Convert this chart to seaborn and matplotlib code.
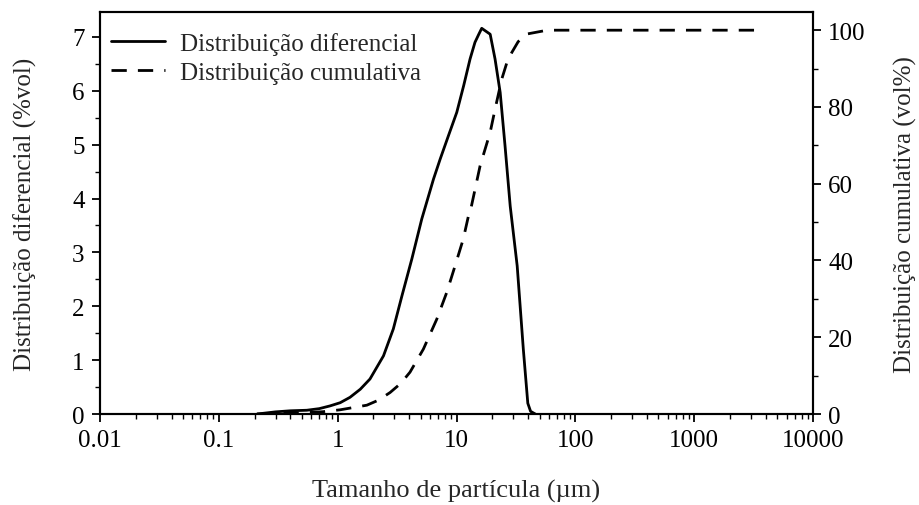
import matplotlib
matplotlib.use("Agg")
import matplotlib.pyplot as plt
import matplotlib.ticker as mticker
from matplotlib.lines import Line2D
import seaborn as sns
import pandas as pd
import numpy as np

# Differential distribution (%vol) vs particle size (µm)
diff_size = [0.21, 0.3, 0.4, 0.55, 0.7, 0.86, 1.05, 1.27, 1.55, 1.87, 2.43, 2.94, 3.47, 4.21,
             5.1, 6.4, 7.28, 8.5, 10.05, 11.5, 13.0, 14.3, 15.4, 16.3, 19.2, 21.1, 23.3, 25.6,
             28.3, 32.4, 36.5, 39.8, 42.0, 46.0]
diff_vals = [0.0, 0.04, 0.06, 0.07, 0.1, 0.15, 0.21, 0.31, 0.46, 0.65, 1.08, 1.58, 2.19, 2.88,
             3.62, 4.36, 4.73, 5.15, 5.6, 6.1, 6.59, 6.9, 7.05, 7.16, 7.05, 6.59, 5.97, 4.98,
             3.86, 2.75, 1.2, 0.2, 0.05, 0.0]

# Cumulative distribution (vol%) vs particle size (µm)
cum_size = [0.21, 0.5, 0.75, 1.05, 1.76, 2.2, 2.76, 3.4, 4.06, 5.26, 6.82, 8.28, 9.72, 11.4, 12.6,
            13.0, 15.8, 19.2, 21.1, 24.0, 26.5, 29.2, 33.0, 39.0, 58.0, 200.0, 1000.0, 3700.0]
cum_vals = [0.0, 0.3, 0.6, 1.1, 2.3, 3.6, 5.6, 8.0, 10.9, 16.9, 24.7, 31.7, 38.6, 45.6, 51.6,
            52.5, 64.7, 73.4, 79.4, 87.2, 91.5, 94.2, 97.0, 99.0, 100.0, 100.0, 100.0, 100.0]

legend_labels = ["Distribuição diferencial", "Distribuição cumulativa"]
x_ticks = [0.01, 0.1, 1, 10, 100, 1000, 10000]
x_tick_labels = ["0.01", "0.1", "1", "10", "100", "1000", "10000"]

sns.set_theme(style="ticks")
plt.rcParams['font.family'] = ['Liberation Serif', 'DejaVu Serif']

fig = plt.figure(figsize=(9.19, 5.06), dpi=100)
ax = fig.add_axes([0.1088, 0.1798, 0.7759, 0.7942])
ax2 = ax.twinx()

df_d = pd.DataFrame({"size": diff_size, "val": diff_vals})
df_c = pd.DataFrame({"size": cum_size, "val": cum_vals})

sns.lineplot(data=df_d, x="size", y="val", ax=ax, color="black", lw=2.0, legend=False)
sns.lineplot(data=df_c, x="size", y="val", ax=ax2, color="black", lw=2.0, legend=False)
ax2.lines[0].set_dashes((5.5, 4))

ax.set_xscale("log")
ax.set_xlim(0.01, 10000)
ax.set_ylim(0, 7.46)
ax2.set_ylim(0, 104.7)

ax.set_xticks(x_ticks)
ax.set_xticklabels(x_tick_labels)
ax.xaxis.set_minor_locator(mticker.LogLocator(base=10, subs=np.arange(2, 10), numticks=20))
ax.xaxis.set_minor_formatter(mticker.NullFormatter())
ax.yaxis.set_major_locator(mticker.MultipleLocator(1))
ax.yaxis.set_minor_locator(mticker.MultipleLocator(0.5))
ax2.yaxis.set_major_locator(mticker.MultipleLocator(20))
ax2.yaxis.set_minor_locator(mticker.MultipleLocator(10))

fs = 18
for a in (ax, ax2):
    for s in a.spines.values():
        s.set_linewidth(1.5)
        s.set_color("black")
    a.tick_params(which="major", direction="out", length=6, width=1.3, labelsize=fs,
                  colors="black", pad=5)
    a.tick_params(which="minor", direction="out", length=3.5, width=1.0, colors="black")

ax.set_xlabel("Tamanho de partícula (µm)", fontsize=19, labelpad=20)
ax.set_ylabel("Distribuição diferencial (%vol)", fontsize=fs, labelpad=25)
ax2.set_ylabel("Distribuição cumulativa (vol%)", fontsize=fs, labelpad=20)

handles = [Line2D([], [], color="black", lw=2.0),
           Line2D([], [], color="black", lw=2.0, dashes=(5.5, 4))]
ax.legend(handles, legend_labels, loc="upper left", frameon=False, fontsize=fs,
          handlelength=2.15, handletextpad=0.6, borderaxespad=0.0, labelspacing=0.25,
          bbox_to_anchor=(0.002, 0.975))

fig.savefig("out.png", dpi=100)
